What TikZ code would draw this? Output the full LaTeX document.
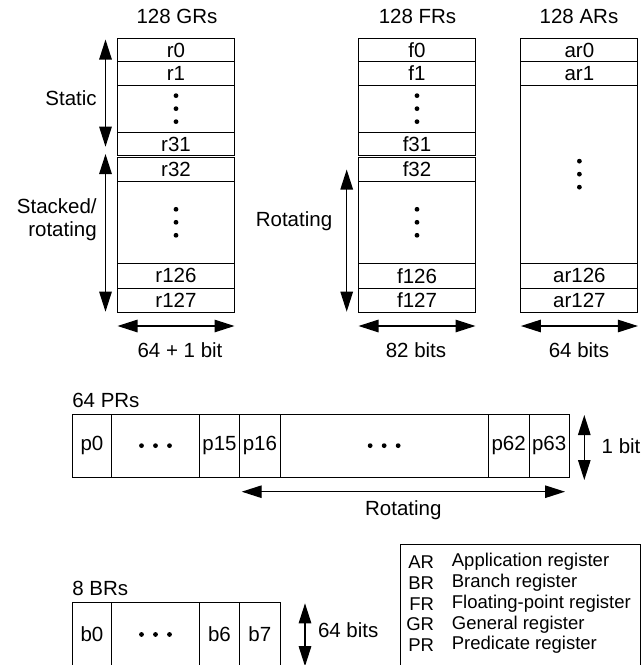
\documentclass[tikz,border=0pt]{standalone}
\usepackage{fontspec}
\setmainfont{Liberation Sans}
\usetikzlibrary{arrows.meta}
\newcommand\mydotsv[1]{\foreach \d in {-13,0,13}{\fill ([yshift=\d pt]#1.center) circle (2.4pt);}}
\newcommand\mydotsh[1]{\foreach \d in {-14,0,14}{\fill ([xshift=\d pt]#1.center) circle (2.4pt);}}
\begin{document}
\begin{tikzpicture}[x=1pt,y=-1pt,
  every node/.style={font=\fontsize{20.5}{23.3}\selectfont},
  cell/.style={draw, line width=0.9pt, inner sep=0pt, outer sep=0pt},
  col/.style={cell, minimum width=117pt},
  lbl/.style={inner sep=0pt, outer sep=0pt},
  legtext/.style={inner sep=0pt, font=\fontsize{18.5}{21}\selectfont},
  dbl/.style={line width=1.2pt, {Triangle[length=20pt,width=12.5pt]}-{Triangle[length=20pt,width=12.5pt]}}]
\useasboundingbox (0,0) rectangle (643,665);
\clip (0,0) rectangle (643,665);
% ---------- GR column
\node[lbl] (tgr) at (177,16.7) {128 GRs};
\node[col, minimum height=23.4pt] (r0) at (176,50) {r0};
\node[col, minimum height=23.3pt] (r1) at (176,73.35) {r1};
\node[col, minimum height=47.3pt] (gd1) at (176,108.65) {};
\node[col, minimum height=23.4pt] (r31) at (176,144) {r31};
\node[col, minimum height=23.6pt] (r32) at (176,169.5) {r32};
\node[col, minimum height=82pt] (gd2) at (176,222.3) {};
\node[col, minimum height=25pt] (r126) at (176,275.8) {r126};
\node[col, minimum height=24pt] (r127) at (176,300.3) {r127};
\mydotsv{gd1}
\mydotsv{gd2}
\draw[dbl] ([xshift=-12pt,yshift=-1.2pt]r0.north west) -- ([xshift=-12pt,yshift=-2.7pt]r31.west);
\draw[dbl] ([xshift=-12pt,yshift=1.7pt]r31.south west) -- ([xshift=-12pt,yshift=0.6pt]r127.south west);
\node[lbl, anchor=east] (lstatic) at (96.7,98.3) {Static};
\node[lbl, anchor=east, align=right] (lstacked) at (96.7,220) {Stacked/\\rotating};
\draw[dbl] ([yshift=-13.7pt]r127.south west) -- ([yshift=-13.7pt]r127.south east);
\node[lbl] (wgr) at (180,350) {64 + 1 bit};
% ---------- FR column
\node[lbl] (tfr) at (417.5,16.7) {128 FRs};
\node[col, minimum height=23.4pt] (f0) at (417,50) {f0};
\node[col, minimum height=23.3pt] (f1) at (417,73.35) {f1};
\node[col, minimum height=47.3pt] (fd1) at (417,108.65) {};
\node[col, minimum height=23.4pt] (f31) at (417,144) {f31};
\node[col, minimum height=23.6pt] (f32) at (417,169.5) {f32};
\node[col, minimum height=82pt] (fd2) at (417,222.3) {};
\node[col, minimum height=25pt] (f126) at (417,275.8) {f126};
\node[col, minimum height=24pt] (f127) at (417,300.3) {f127};
\mydotsv{fd1}
\mydotsv{fd2}
\draw[dbl] ([xshift=-11.8pt]f32.west) -- ([xshift=-11.8pt,yshift=0.6pt]f127.south west);
\node[lbl] (lrotfr) at (294,221) {Rotating};
\draw[dbl] ([yshift=-13.7pt]f127.south west) -- ([yshift=-13.7pt]f127.south east);
\node[lbl] (wfr) at (416,350) {82 bits};
% ---------- AR column
\node[lbl] (tar) at (579,16.7) {128 ARs};
\node[col, minimum height=23.4pt] (a0) at (579.4,50) {ar0};
\node[col, minimum height=23.3pt] (a1) at (579.4,73.35) {ar1};
\node[col, minimum height=178.3pt] (ad) at (579.4,174.15) {};
\node[col, minimum height=25pt] (a126) at (579.4,275.8) {ar126};
\node[col, minimum height=24pt] (a127) at (579.4,300.3) {ar127};
\mydotsv{ad}
\draw[dbl] ([yshift=-13.7pt]a127.south west) -- ([yshift=-13.7pt]a127.south east);
\node[lbl] (war) at (579,350) {64 bits};
% ---------- PR row
\node[lbl, anchor=west] (tpr) at (72.3,400.7) {64 PRs};
\node[cell, minimum width=39.4pt, minimum height=62.7pt] (p0) at (92,445.65) {p0};
\node[cell, minimum width=87.6pt, minimum height=62.7pt] (pd1) at (155.5,445.65) {};
\node[cell, minimum width=40.4pt, minimum height=62.7pt] (p15) at (219.5,445.65) {p15};
\node[cell, minimum width=40.3pt, minimum height=62.7pt] (p16) at (259.85,445.65) {p16};
\node[cell, minimum width=208.3pt, minimum height=62.7pt] (pd2) at (384.15,445.65) {};
\node[cell, minimum width=40.7pt, minimum height=62.7pt] (p62) at (508.65,445.65) {p62};
\node[cell, minimum width=40.3pt, minimum height=62.7pt] (p63) at (549.15,445.65) {p63};
\mydotsh{pd1}
\mydotsh{pd2}
\draw[dbl] ([xshift=15pt,yshift=-0.7pt]p63.north east) -- ([xshift=15pt,yshift=-3pt]p63.south east);
\node[lbl, anchor=west] (lbit) at (601.7,445.7) {1 bit};
\draw[dbl] ([xshift=2pt,yshift=-14.7pt]p16.south west) -- ([xshift=-4.3pt,yshift=-14.7pt]p63.south east);
\node[lbl] (lrotpr) at (403.3,510) {Rotating};
% ---------- BR row
\node[lbl, anchor=west] (tbr) at (72.3,588.3) {8 BRs};
\node[cell, minimum width=39.4pt, minimum height=63.5pt] (b0) at (92,634.45) {b0};
\node[cell, minimum width=87.6pt, minimum height=63.5pt] (bd) at (155.5,634.45) {};
\node[cell, minimum width=40.4pt, minimum height=63.5pt] (b6) at (219.5,634.45) {b6};
\node[cell, minimum width=40.3pt, minimum height=63.5pt] (b7) at (259.85,634.45) {b7};
\mydotsh{bd}
\draw[dbl] ([xshift=25pt,yshift=-0.6pt]b7.north east) -- ([xshift=25pt]b7.south east);
\node[lbl, anchor=west] (lbits) at (318,630) {64 bits};
% ---------- legend
\node[cell, minimum width=240pt, minimum height=130pt] (legend) at (520,609) {};
\node[legtext, anchor=east] (kar) at (434.3,561.7) {AR};
\node[legtext, anchor=east] (kbr) at (434.3,582.7) {BR};
\node[legtext, anchor=east] (kfr) at (434.3,603.7) {FR};
\node[legtext, anchor=east] (kgr) at (434.3,624.5) {GR};
\node[legtext, anchor=east] (kpr) at (434.3,645) {PR};
\node[legtext, anchor=west] (dar) at (451.7,561.7) {Application register};
\node[legtext, anchor=west] (dbr) at (451.7,582.7) {Branch register};
\node[legtext, anchor=west] (dfr) at (451.7,603.7) {Floating-point register};
\node[legtext, anchor=west] (dgr) at (451.7,624.5) {General register};
\node[legtext, anchor=west] (dpr) at (451.7,645) {Predicate register};
\end{tikzpicture}
\end{document}
